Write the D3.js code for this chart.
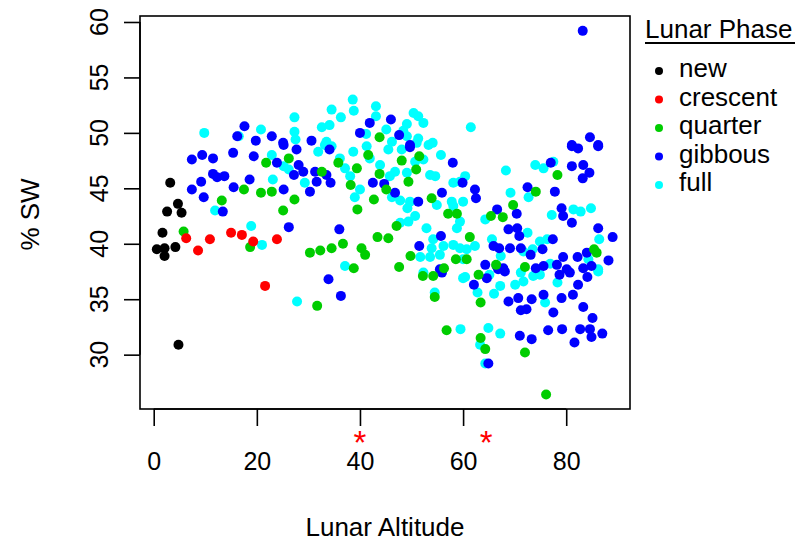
<!DOCTYPE html>
<html>
<head>
<meta charset="utf-8">
<script src="https://cdn.jsdelivr.net/npm/d3@7"></script>
<style>
  body { margin: 0; background: #fff; }
  svg text { font-family: "Liberation Sans", Arial, sans-serif; }
</style>
</head>
<body>
<div id="chart"></div>
<script>
// lunar altitude (deg) vs % SW, one array per lunar phase: [altitude, sw]
var phases = ["new", "crescent", "quarter", "gibbous", "full"];
var phaseColors = ["#000000", "#ff0000", "#00cd00", "#0000ff", "#00ffff"];

var newPts = [[3.2,45.5],[4.7,43.6],[2.6,42.9],[5.4,42.8],[1.7,41.0],[0.6,39.5],[2.1,39.6],[2.1,38.9],[4.2,39.7],[4.8,30.9]];

var crescentPts = [[6.3,40.5],[8.6,39.4],[10.9,40.4],[15.0,41.0],[17.1,40.8],[19.3,40.2],[23.9,40.4],[21.6,36.2]];

var quarterPts = [[5.8,41.1],[18.7,39.7],[25.1,43.0],[27.3,44.0],[13.2,43.9],[17.5,44.9],[20.8,44.6],[22.9,44.7],[21.8,47.3],[26.2,47.7],
  [43.8,49.6],[32.6,46.5],[35.8,47.3],[39.4,46.8],[38.2,45.3],[39.5,43.1],[42.7,44.0],[43.8,46.3],[41.6,48.0],[48.1,47.5],
  [45.1,44.9],[49.4,45.6],[50.9,46.7],[51.5,47.9],[53.9,44.1],[57.1,42.7],[58.8,42.7],[47.1,41.6],[43.4,40.6],[45.5,40.5],
  [58.6,38.6],[49.8,38.9],[30.3,39.2],[32.3,39.4],[34.5,39.6],[36.7,40.0],[40.3,39.6],[41.0,39.0],[38.8,37.8],[47.6,37.9],
  [56.3,37.8],[31.7,34.4],[52.2,37.1],[54.2,37.1],[54.5,35.2],[56.8,32.2],[78.3,46.2],[74.1,44.7],[69.7,43.5],[65.4,42.5],
  [67.7,42.4],[61.3,40.6],[85.4,39.5],[85.9,39.2],[72.0,37.9],[66.4,38.1],[60.7,38.6],[63.0,37.2],[63.4,34.7],[72.0,30.2],
  [63.4,31.5],[64.3,30.5],[76.1,26.4]];

var gibbousPts = [[17.6,50.6],[16.2,49.7],[19.8,49.3],[22.9,49.7],[25.1,49.1],[30.6,49.3],[41.9,50.9],[46.0,51.2],[40.0,50.0],[47.6,49.8],
  [49.7,48.9],[83.2,59.2],[84.6,49.6],[81.1,48.9],[86.2,48.9],[26.2,41.5],[13.4,42.9],[9.7,44.2],[7.4,44.9],[9.2,45.6],
  [11.5,46.3],[12.3,46.0],[13.7,46.1],[15.5,45.1],[18.6,45.8],[25.2,44.9],[7.4,47.6],[9.4,48.0],[11.5,47.7],[15.4,48.2],
  [19.4,47.9],[23.9,47.3],[27.2,46.2],[25.2,48.9],[27.7,48.5],[28.1,47.1],[34.1,48.5],[29.0,46.5],[31.3,46.5],[31.6,45.6],
  [33.5,46.2],[34.3,45.5],[30.3,44.7],[42.5,45.5],[49.7,48.7],[44.7,45.4],[46.8,44.6],[58.0,47.3],[55.9,44.6],[51.3,43.8],
  [36.0,41.3],[55.7,40.7],[51.5,39.8],[55.5,37.7],[33.9,36.8],[36.3,35.3],[55.9,37.4],[81.1,48.8],[82.3,48.6],[86.2,48.8],
  [77.0,47.3],[81.1,47.0],[83.3,47.1],[84.5,46.4],[83.2,45.9],[59.9,45.5],[62.3,44.9],[62.5,44.1],[72.5,45.1],[77.8,44.7],
  [66.6,43.1],[70.4,42.7],[79.1,43.2],[79.4,42.5],[81.1,41.9],[68.8,41.3],[70.5,41.4],[70.9,40.7],[65.9,39.8],[67.0,39.6],
  [69.1,39.6],[71.2,39.6],[73.1,39.0],[75.4,39.5],[77.4,40.4],[86.2,41.4],[89.0,40.6],[84.0,39.2],[82.2,38.8],[88.2,38.5],
  [79.4,38.8],[78.2,38.1],[80.1,37.7],[75.6,38.0],[74.1,37.8],[67.8,37.8],[66.5,38.0],[64.3,38.1],[83.3,37.8],[84.9,38.0],
  [62.1,36.3],[64.6,36.9],[66.8,37.7],[68.1,37.5],[68.8,34.8],[70.7,35.1],[71.2,34.0],[72.3,34.1],[73.3,35.0],[75.6,35.4],
  [77.5,33.8],[79.1,35.1],[81.3,35.4],[82.3,36.3],[84.1,37.0],[78.7,37.2],[80.7,37.4],[83.3,34.3],[85.1,33.3],[82.7,32.3],
  [84.6,32.3],[84.9,31.6],[87.0,31.9],[81.6,31.1],[79.2,32.3],[76.5,32.2],[73.3,31.4],[71.0,31.7],[64.9,29.2]];

var fullPts = [[9.8,50.0],[16.5,49.7],[20.8,50.3],[27.3,51.4],[27.3,50.1],[27.5,49.4],[38.6,53.0],[38.8,52.0],[34.5,52.1],[36.3,51.4],
  [34.1,50.7],[32.6,50.5],[33.5,49.2],[43.1,52.4],[43.1,51.5],[50.4,51.8],[51.3,51.5],[52.3,50.9],[49.1,50.8],[41.2,49.9],
  [45.1,50.3],[48.4,50.2],[49.1,49.7],[51.3,49.5],[54.1,49.1],[46.2,49.2],[61.5,50.5],[21.0,39.9],[18.9,41.6],[27.8,34.8],
  [11.9,43.0],[23.1,45.8],[22.9,48.0],[25.2,47.0],[26.2,46.7],[33.2,48.9],[34.5,48.8],[31.9,48.3],[29.3,45.5],[37.1,46.8],
  [36.1,47.7],[38.7,48.3],[38.1,46.1],[40.0,44.9],[39.0,44.2],[43.9,47.1],[41.9,47.7],[41.3,48.8],[45.5,48.5],[51.0,49.1],
  [48.1,48.5],[46.8,46.5],[45.8,46.1],[46.2,44.2],[47.8,43.9],[49.1,46.4],[50.7,47.4],[52.3,47.6],[53.3,48.9],[55.7,48.0],
  [53.6,46.2],[54.6,46.1],[54.9,43.5],[58.1,45.5],[59.4,45.6],[57.8,43.8],[58.1,43.4],[59.4,42.0],[58.8,41.4],[49.7,43.8],
  [49.2,43.2],[50.7,42.5],[49.4,42.0],[47.8,41.9],[52.9,41.4],[54.2,40.4],[53.9,39.6],[56.2,39.8],[58.1,39.9],[59.4,39.6],
  [51.7,38.8],[53.6,38.8],[55.5,39.0],[60.0,38.6],[37.1,38.0],[52.3,37.4],[54.5,35.6],[59.5,32.3],[60.0,36.9],[77.5,47.4],
  [74.0,47.1],[75.6,46.8],[68.3,46.6],[60.4,46.1],[60.0,43.8],[72.7,44.2],[69.2,44.6],[64.3,42.2],[77.2,42.6],[81.4,43.1],
  [82.8,42.9],[84.8,43.2],[72.5,41.0],[65.6,40.4],[62.3,39.8],[60.7,39.5],[67.3,38.9],[71.7,39.3],[73.5,39.5],[74.9,40.2],
  [76.3,40.4],[86.4,40.4],[84.3,38.6],[76.9,38.2],[86.2,37.7],[60.4,37.0],[62.8,35.6],[65.1,37.2],[67.2,36.2],[66.0,35.5],
  [70.1,36.3],[71.7,36.6],[71.2,37.4],[73.6,37.1],[74.9,37.2],[75.9,34.7],[86.2,37.5],[78.3,36.5],[64.9,32.4],[67.2,31.9],
  [63.3,30.9],[64.3,29.2]];

var xTicks = [0, 20, 40, 60, 80];
var yTicks = [30, 35, 40, 45, 50, 55, 60];
var starredAlt = [40, 64.5];   // altitudes flagged with a red asterisk

var width = 808, height = 541;
var box = {left: 140, right: 630, top: 16, bottom: 409};

var svg = d3.select("#chart").append("svg")
  .attr("width", width)
  .attr("height", height);

var x = d3.scaleLinear().domain([-2.66, 92.37]).range([box.left, box.right]);
var y = d3.scaleLinear().domain([25.1, 60.54]).range([box.bottom, box.top]);

// points: drawn full first so the other phases sit on top
var layers = [
  {pts: fullPts, color: phaseColors[4]},
  {pts: gibbousPts, color: phaseColors[3]},
  {pts: quarterPts, color: phaseColors[2]},
  {pts: crescentPts, color: phaseColors[1]},
  {pts: newPts, color: phaseColors[0]}
];

layers.forEach(function(layer) {
  svg.append("g").selectAll("circle")
    .data(layer.pts)
    .enter()
    .append("circle")
    .attr("cx", function(d) { return x(d[0]); })
    .attr("cy", function(d) { return y(d[1]); })
    .attr("r", 5)
    .attr("fill", layer.color);
});

// plot frame
svg.append("rect")
  .attr("x", box.left)
  .attr("y", box.top)
  .attr("width", box.right - box.left)
  .attr("height", box.bottom - box.top)
  .attr("fill", "none")
  .attr("stroke", "#000")
  .attr("stroke-width", 1.6);

// x axis
var xAxis = svg.append("g")
  .attr("transform", "translate(0," + box.bottom + ")")
  .call(d3.axisBottom(x).tickValues(xTicks).tickSize(17).tickPadding(26).tickFormat(d3.format("d")));
xAxis.select(".domain").attr("stroke", "#000").attr("stroke-width", 1.6)
  .attr("d", "M" + x(0) + ",0H" + x(80));
xAxis.selectAll(".tick line").attr("stroke", "#000").attr("stroke-width", 1.6);
xAxis.selectAll("text").attr("font-size", 25).attr("fill", "#000")
  .style("font-family", "'Liberation Sans', Arial, sans-serif");

// y axis (labels rotated as in base R)
var yAxis = svg.append("g")
  .attr("transform", "translate(" + box.left + ",0)")
  .call(d3.axisLeft(y).tickValues(yTicks).tickSize(16).tickFormat(""));
yAxis.select(".domain").attr("stroke", "#000").attr("stroke-width", 1.6)
  .attr("d", "M0," + y(30) + "V" + y(60));
yAxis.selectAll(".tick line").attr("stroke", "#000").attr("stroke-width", 1.6);

svg.append("g").selectAll("text")
  .data(yTicks)
  .enter()
  .append("text")
  .text(function(d) { return d; })
  .attr("transform", function(d) { return "translate(108," + y(d) + ") rotate(-90)"; })
  .attr("text-anchor", "middle")
  .attr("font-size", 25)
  .attr("fill", "#000");

// asterisks under the x axis
svg.append("g").selectAll("text")
  .data(starredAlt)
  .enter()
  .append("text")
  .text("*")
  .attr("x", function(d) { return x(d); })
  .attr("y", 454)
  .attr("text-anchor", "middle")
  .attr("font-size", 33)
  .attr("fill", "#ff0000");

// axis titles
svg.append("text")
  .text("Lunar Altitude")
  .attr("x", 385)
  .attr("y", 536)
  .attr("text-anchor", "middle")
  .attr("font-size", 26)
  .attr("fill", "#000");

svg.append("text")
  .text("% SW")
  .attr("transform", "translate(39," + ((box.top + box.bottom) / 2 + 2) + ") rotate(-90)")
  .attr("text-anchor", "middle")
  .attr("font-size", 26)
  .attr("fill", "#000");

// legend
var legend = svg.append("g");
legend.append("text")
  .text("Lunar Phase")
  .attr("x", 645)
  .attr("y", 38)
  .attr("font-size", 26)
  .attr("fill", "#000");
legend.append("line")
  .attr("x1", 645).attr("x2", 795)
  .attr("y1", 43).attr("y2", 43)
  .attr("stroke", "#000")
  .attr("stroke-width", 2);

var legendY = d3.scalePoint().domain(phases).range([71, 185]);

legend.selectAll("circle")
  .data(phases)
  .enter()
  .append("circle")
  .attr("cx", 659)
  .attr("cy", function(d) { return legendY(d); })
  .attr("r", 4)
  .attr("fill", function(d, i) { return phaseColors[i]; });

legend.selectAll("text.entry")
  .data(phases)
  .enter()
  .append("text")
  .attr("class", "entry")
  .text(function(d) { return d; })
  .attr("x", 679)
  .attr("y", function(d) { return legendY(d) + 6; })
  .attr("font-size", 26)
  .attr("fill", "#000");
</script>
</body>
</html>
